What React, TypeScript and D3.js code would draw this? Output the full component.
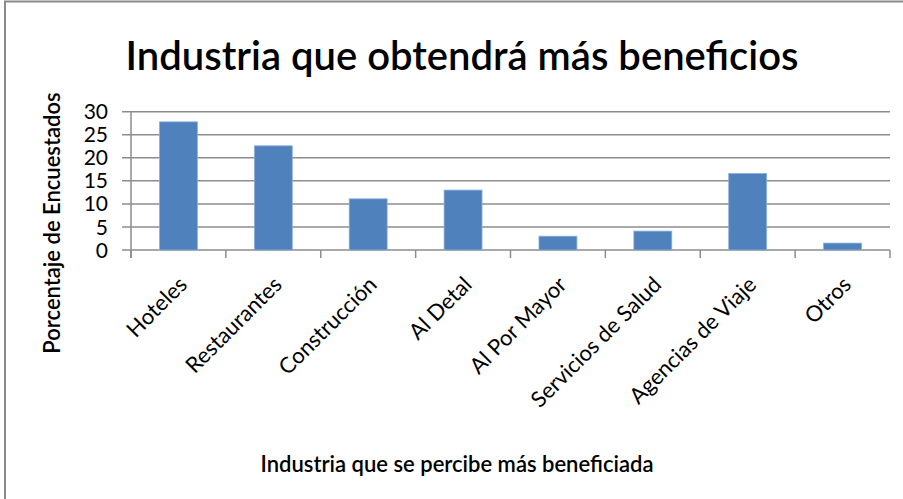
import React from "react";
import * as d3 from "d3";

const categories = ["Hoteles", "Restaurantes", "Construcción", "Al Detal", "Al Por Mayor", "Servicios de Salud", "Agencias de Viaje", "Otros"];
const values = [27.8, 22.6, 11.1, 13.0, 3.0, 4.1, 16.6, 1.5];
const yTicks = [0, 5, 10, 15, 20, 25, 30];
const title = "Industria que obtendrá más beneficios";
const xTitle = "Industria que se percibe más beneficiada";
const yTitle = "Porcentaje de Encuestados";

const W = 903, H = 499;
const left = 131, right = 890, top = 111.7, bottom = 250;
const FONT = "Lato, 'Open Sans', sans-serif";

export default function App() {
  const x = d3.scaleBand<string>().domain(categories).range([left, right]).paddingInner(0.6).paddingOuter(0.3);
  const xb = d3.scaleBand<string>().domain(categories).range([left, right]);
  const y = d3.scaleLinear().domain([0, 30]).range([bottom, top]);
  const grid = "#8c8c8c";
  const tickEdges = [...categories.map((c) => xb(c)!), right];
  return (
    <svg width={W} height={H} style={{ position: "absolute", left: 0, top: 0, background: "#fff" }} fontFamily={FONT}>
      <rect x={5} y={1.5} width={W} height={H} fill="#fff" stroke="#8a8a8a" strokeWidth={2} />
      <text x={462} y={70} textAnchor="middle" fontSize={40} fontWeight={600} fill="#000">{title}</text>
      {yTicks.map((t) => (
        <g key={t}>
          <line x1={left - 9} x2={right} y1={y(t)} y2={y(t)} stroke={grid} strokeWidth={1.5} />
          <text x={108} y={y(t)} dy="0.36em" textAnchor="end" fontSize={21} fill="#000">{t}</text>
        </g>
      ))}
      <line x1={left} x2={left} y1={top} y2={bottom + 8} stroke={grid} strokeWidth={1.5} />
      {tickEdges.map((e, i) => (
        <line key={i} x1={e} x2={e} y1={bottom} y2={bottom + 8} stroke={grid} strokeWidth={1.5} />
      ))}
      {categories.map((c, i) => (
        <rect key={c} x={x(c)!} width={x.bandwidth()} y={y(values[i])} height={bottom - y(values[i])} fill="#4F81BD" stroke="#8fb0d8" strokeWidth={0.8} />
      ))}
      {categories.map((c) => {
        const cx = xb(c)! + xb.bandwidth() / 2 + 10;
        const cy = bottom + 36;
        return (
          <text key={c} x={cx} y={cy} textAnchor="end" fontSize={22} fill="#000" transform={`rotate(-45 ${cx} ${cy})`}>{c}</text>
        );
      })}
      <text x={457} y={472} textAnchor="middle" fontSize={22} fontWeight={600} fill="#000">{xTitle}</text>
      <text transform={`translate(60 223) rotate(-90)`} textAnchor="middle" fontSize={22} fontWeight={600} fill="#000">{yTitle}</text>
    </svg>
  );
}
